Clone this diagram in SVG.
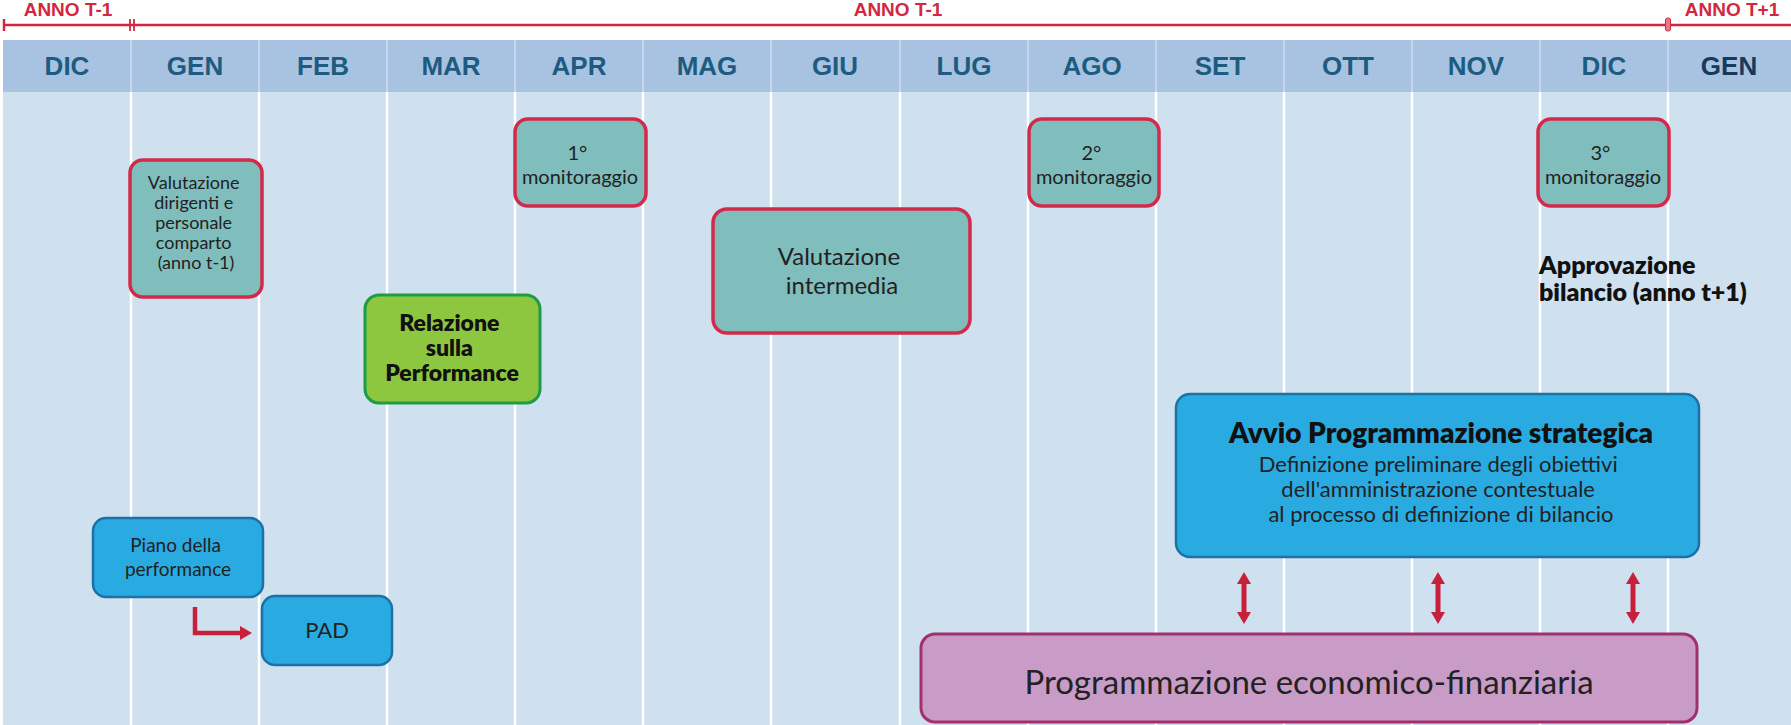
<svg xmlns="http://www.w3.org/2000/svg" width="1791" height="725" viewBox="0 0 1791 725">
  <defs>
    <style>
      .body { fill: #cfe0ef; }
      .head { fill: #a7c3e1; }
      .sep { stroke: #ffffff; stroke-width: 2.5; }
      .hsep { stroke: #c3d6eb; stroke-width: 2; }
      .month { font-family: "Liberation Sans", Arial, sans-serif; font-weight: bold; font-size: 26px; fill: #1d5c80; text-anchor: middle; }
      .year { font-family: "Liberation Sans", Arial, sans-serif; font-weight: bold; font-size: 19px; fill: #d2283f; text-anchor: middle; }
      .tl { stroke: #d2283f; stroke-width: 2.5; fill: none; }
      .eval { fill: #80bdbd; stroke: #d42a4a; stroke-width: 3.5; }
      .green { fill: #8dc63f; stroke: #1e9b48; stroke-width: 3; }
      .blue { fill: #29abe2; stroke: #1b72a6; stroke-width: 2.5; }
      .purple { fill: #c99cc8; stroke: #a1306c; stroke-width: 3; }
      .t { font-family: Lato, "Open Sans", "Liberation Sans", sans-serif; fill: #222222; text-anchor: middle; }
      .b { font-weight: 800; fill: #111111; }
      .arrow { stroke: #c8203a; fill: none; }
    </style>
    <marker id="head" viewBox="0 0 12 14" refX="0" refY="7" markerWidth="12" markerHeight="14" markerUnits="userSpaceOnUse" orient="auto-start-reverse">
      <path d="M0,0 L12,7 L0,14 z" fill="#c8203a"/>
    </marker>
  </defs>

  <!-- timeline background: month columns -->
  <g id="calendar">
    <rect class="body" x="3" y="92" width="1788" height="633"/>
    <rect class="head" x="3" y="40" width="1788" height="52"/>
    <g>
      <line class="sep" x1="131" y1="92" x2="131" y2="725"/>
      <line class="sep" x1="259" y1="92" x2="259" y2="725"/>
      <line class="sep" x1="387" y1="92" x2="387" y2="725"/>
      <line class="sep" x1="515" y1="92" x2="515" y2="725"/>
      <line class="sep" x1="643" y1="92" x2="643" y2="725"/>
      <line class="sep" x1="771" y1="92" x2="771" y2="725"/>
      <line class="sep" x1="900" y1="92" x2="900" y2="725"/>
      <line class="sep" x1="1028" y1="92" x2="1028" y2="725"/>
      <line class="sep" x1="1156" y1="92" x2="1156" y2="725"/>
      <line class="sep" x1="1284" y1="92" x2="1284" y2="725"/>
      <line class="sep" x1="1412" y1="92" x2="1412" y2="725"/>
      <line class="sep" x1="1540" y1="92" x2="1540" y2="725"/>
      <line class="sep" x1="1668" y1="92" x2="1668" y2="725"/>
    </g>
    <g>
      <line class="hsep" x1="131" y1="40" x2="131" y2="92"/>
      <line class="hsep" x1="259" y1="40" x2="259" y2="92"/>
      <line class="hsep" x1="387" y1="40" x2="387" y2="92"/>
      <line class="hsep" x1="515" y1="40" x2="515" y2="92"/>
      <line class="hsep" x1="643" y1="40" x2="643" y2="92"/>
      <line class="hsep" x1="771" y1="40" x2="771" y2="92"/>
      <line class="hsep" x1="900" y1="40" x2="900" y2="92"/>
      <line class="hsep" x1="1028" y1="40" x2="1028" y2="92"/>
      <line class="hsep" x1="1156" y1="40" x2="1156" y2="92"/>
      <line class="hsep" x1="1284" y1="40" x2="1284" y2="92"/>
      <line class="hsep" x1="1412" y1="40" x2="1412" y2="92"/>
      <line class="hsep" x1="1540" y1="40" x2="1540" y2="92"/>
      <line class="hsep" x1="1668" y1="40" x2="1668" y2="92"/>
    </g>
    <g>
      <text class="month" x="67" y="75">DIC</text>
      <text class="month" x="195" y="75">GEN</text>
      <text class="month" x="323" y="75">FEB</text>
      <text class="month" x="451" y="75">MAR</text>
      <text class="month" x="579" y="75">APR</text>
      <text class="month" x="707" y="75">MAG</text>
      <text class="month" x="835" y="75">GIU</text>
      <text class="month" x="964" y="75">LUG</text>
      <text class="month" x="1092" y="75">AGO</text>
      <text class="month" x="1220" y="75">SET</text>
      <text class="month" x="1348" y="75">OTT</text>
      <text class="month" x="1476" y="75">NOV</text>
      <text class="month" x="1604" y="75">DIC</text>
      <text class="month" x="1729" y="75" style="fill:#173a5c">GEN</text>
    </g>
  </g>

  <!-- year ruler -->
  <g id="years">
    <line class="tl" x1="4" y1="25" x2="1791" y2="25"/>
    <line class="tl" x1="4" y1="19" x2="4" y2="31"/>
    <line class="tl" x1="130" y1="19" x2="130" y2="31" style="stroke-width:1.8"/>
    <line class="tl" x1="134" y1="19" x2="134" y2="31" style="stroke-width:1.8"/>
    <rect x="1665.5" y="18" width="5" height="13" rx="2" fill="#e77a8a" stroke="#d2283f" stroke-width="1"/>
    <text class="year" x="68" y="16">ANNO T-1</text>
    <text class="year" x="898" y="16">ANNO T-1</text>
    <text class="year" x="1732" y="16">ANNO T+1</text>
  </g>

  <!-- activities -->
  <g id="valutazione-dirigenti">
    <rect class="eval" x="130" y="160" width="132" height="137" rx="13"/>
    <text class="t" font-size="18">
      <tspan x="196" y="189">Valutazione</tspan>
      <tspan x="196" y="209">dirigenti e</tspan>
      <tspan x="196" y="229">personale</tspan>
      <tspan x="196" y="249">comparto</tspan>
      <tspan x="196" y="269">(anno t-1)</tspan>
    </text>
  </g>

  <g id="monitoraggio-1">
    <rect class="eval" x="515" y="119" width="131" height="87" rx="13"/>
    <text class="t" font-size="20">
      <tspan x="580" y="160">1°</tspan>
      <tspan x="580" y="184">monitoraggio</tspan>
    </text>
  </g>

  <g id="monitoraggio-2">
    <rect class="eval" x="1029" y="119" width="130" height="87" rx="13"/>
    <text class="t" font-size="20">
      <tspan x="1094" y="160">2°</tspan>
      <tspan x="1094" y="184">monitoraggio</tspan>
    </text>
  </g>

  <g id="monitoraggio-3">
    <rect class="eval" x="1538" y="119" width="131" height="87" rx="13"/>
    <text class="t" font-size="20">
      <tspan x="1603" y="160">3°</tspan>
      <tspan x="1603" y="184">monitoraggio</tspan>
    </text>
  </g>

  <g id="valutazione-intermedia">
    <rect class="eval" x="713" y="209" width="257" height="124" rx="14"/>
    <text class="t" font-size="24">
      <tspan x="842" y="265">Valutazione</tspan>
      <tspan x="842" y="294">intermedia</tspan>
    </text>
  </g>

  <g id="relazione-performance">
    <rect class="green" x="365" y="295" width="175" height="108" rx="14"/>
    <text class="t b" font-size="23">
      <tspan x="452" y="331">Relazione</tspan>
      <tspan x="452" y="356">sulla</tspan>
      <tspan x="452" y="381">Performance</tspan>
    </text>
  </g>

  <g id="approvazione-bilancio">
    <text class="t b" font-size="25" style="text-anchor:start">
      <tspan x="1539" y="274">Approvazione</tspan>
      <tspan x="1539" y="301">bilancio (anno t+1)</tspan>
    </text>
  </g>

  <g id="programmazione-strategica">
    <rect class="blue" x="1176" y="394" width="523" height="163" rx="14"/>
    <text class="t b" font-size="28" x="1441" y="443">Avvio Programmazione strategica</text>
    <text class="t" font-size="22">
      <tspan x="1441" y="472">Definizione preliminare degli obiettivi</tspan>
      <tspan x="1441" y="497">dell'amministrazione contestuale</tspan>
      <tspan x="1441" y="522">al processo di definizione di bilancio</tspan>
    </text>
  </g>

  <g id="piano-performance">
    <rect class="blue" x="93" y="518" width="170" height="79" rx="13"/>
    <text class="t" font-size="19">
      <tspan x="178" y="552">Piano della</tspan>
      <tspan x="178" y="576">performance</tspan>
    </text>
  </g>

  <g id="pad">
    <rect class="blue" x="262" y="596" width="130" height="69" rx="13"/>
    <text class="t" font-size="22" x="327" y="638">PAD</text>
  </g>

  <g id="programmazione-economica">
    <rect class="purple" x="921" y="634" width="776" height="88" rx="14"/>
    <text class="t" font-size="33" x="1309" y="694">Programmazione economico-finanziaria</text>
  </g>

  <!-- connectors -->
  <g id="connectors">
    <path class="arrow" d="M195,607 V633 H240" stroke-width="4.5" marker-end="url(#head)"/>
    <line class="arrow" x1="1244" y1="584" x2="1244" y2="612" stroke-width="5" marker-start="url(#head)" marker-end="url(#head)"/>
    <line class="arrow" x1="1438" y1="584" x2="1438" y2="612" stroke-width="5" marker-start="url(#head)" marker-end="url(#head)"/>
    <line class="arrow" x1="1633" y1="584" x2="1633" y2="612" stroke-width="5" marker-start="url(#head)" marker-end="url(#head)"/>
  </g>
</svg>
